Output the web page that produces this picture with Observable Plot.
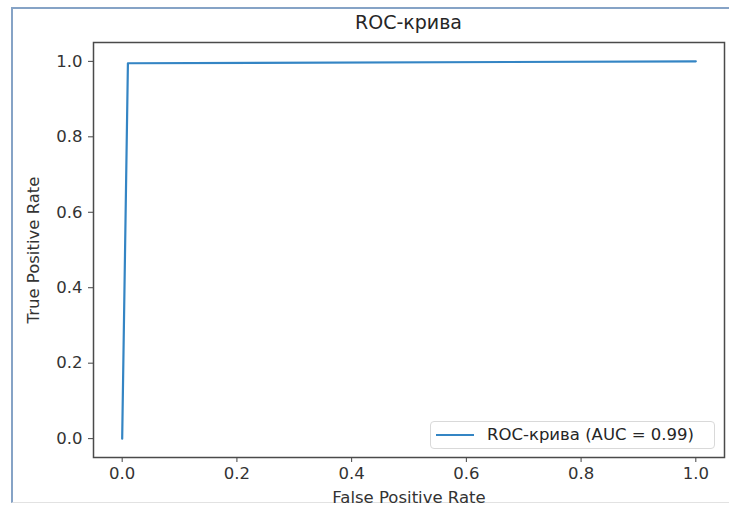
<!DOCTYPE html>
<html><head><meta charset="utf-8">
<script src="https://cdn.jsdelivr.net/npm/d3@7"></script>
<script src="https://cdn.jsdelivr.net/npm/@observablehq/plot@0.6"></script>
<style>
body{margin:0;background:#fff;font-family:"DejaVu Sans",sans-serif;}
#wrap{position:relative;width:729px;height:506px;overflow:hidden;background:#fff;}
#border{position:absolute;left:11px;top:7px;width:740px;height:496px;border-left:2px solid #86a3c6;border-top:2px solid #86a3c6;border-bottom:1px solid #e2e2e2;box-sizing:border-box;}
#chart{position:absolute;left:0;top:0;}
#title{position:absolute;top:10px;left:93px;width:631px;text-align:center;font-size:19px;line-height:24px;color:#262626;}
#legend{position:absolute;left:430px;top:421px;width:285px;height:28px;border:1px solid #d9d9d9;border-radius:4px;background:rgba(255,255,255,0.85);box-sizing:border-box;}
#legend .sw{position:absolute;left:5px;top:12px;width:38px;height:2px;}
#legend .tx{position:absolute;left:56px;top:2px;font-size:16.5px;line-height:22px;color:#262626;white-space:nowrap;}
</style></head>
<body>
<div id="wrap"><div id="border"></div><div id="chart"></div><div id="title"></div><div id="legend"><div class="sw"></div><div class="tx"></div></div></div>
<script>
const fpr = [0, 0.01, 1];
const tpr = [0, 0.995, 1];
const xTicks = [0, 0.2, 0.4, 0.6, 0.8, 1.0];
const yTicks = [0, 0.2, 0.4, 0.6, 0.8, 1.0];
const auc = 0.99;
const title = "ROC-крива";
const seriesName = "ROC-крива";
const xLabel = "False Positive Rate";
const yLabel = "True Positive Rate";
const lineColor = "#3485c4";

const data = fpr.map((f, i) => ({fpr: f, tpr: tpr[i]}));
const fmt = d3.format(".1f");

const chart = Plot.plot({
  width: 729, height: 506,
  marginLeft: 93, marginRight: 5, marginTop: 42, marginBottom: 49,
  x: {domain: [-0.05, 1.05]},
  y: {domain: [-0.05, 1.05]},
  style: {fontFamily: "DejaVu Sans", fontSize: "16.5px", color: "#333", background: "transparent", overflow: "visible"},
  marks: [
    Plot.axisX({ticks: xTicks, tickFormat: fmt, tickSize: 5, tickPadding: 5, stroke: "#444", fill: "#333",
      label: xLabel, labelAnchor: "center", labelOffset: 45, labelArrow: "none"}),
    Plot.axisY({ticks: yTicks, tickFormat: fmt, tickSize: 5, tickPadding: 6, stroke: "#444", fill: "#333",
      label: yLabel, labelAnchor: "center", labelOffset: 66, labelArrow: "none"}),
    Plot.line(data, {x: "fpr", y: "tpr", stroke: lineColor, strokeWidth: 2.2}),
    Plot.frame({stroke: "#4a4a4a", strokeWidth: 1.5})
  ]
});
document.getElementById("chart").appendChild(chart);
document.getElementById("title").textContent = title;
document.querySelector("#legend .sw").style.background = lineColor;
document.querySelector("#legend .tx").textContent = `${seriesName} (AUC = ${auc})`;
</script>
</body></html>
